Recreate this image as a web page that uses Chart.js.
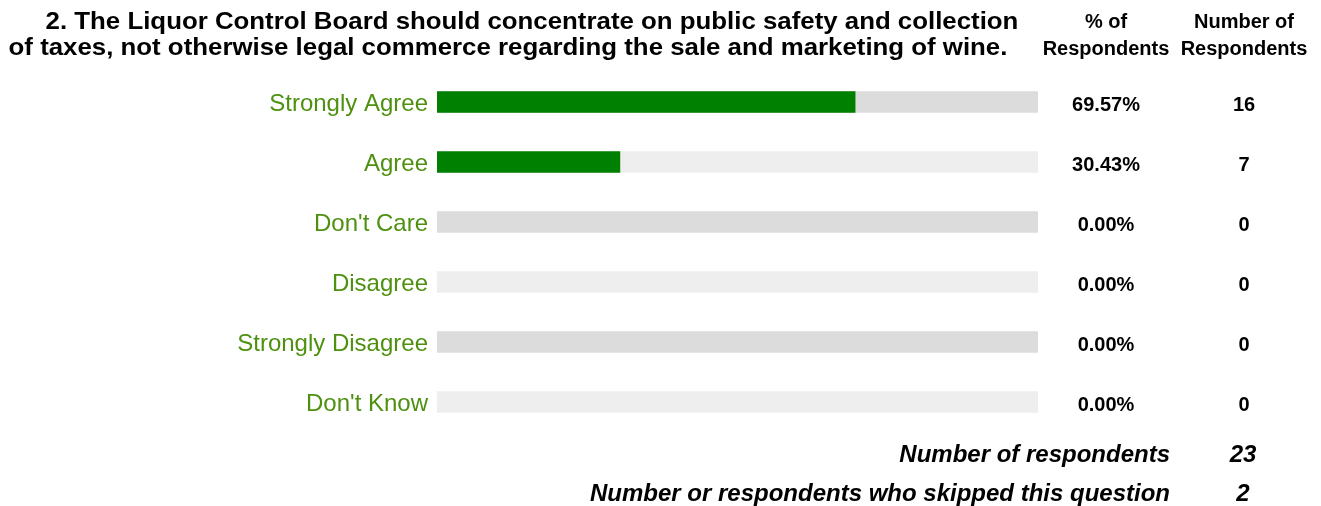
<!DOCTYPE html>
<html>
<head>
<meta charset="utf-8">
<script src="https://cdn.jsdelivr.net/npm/chart.js@4"></script>
<style>
  html, body { margin: 0; padding: 0; background: #fff; }
  #wrap { position: relative; width: 1321px; height: 506px; }
</style>
</head>
<body>
<div id="wrap"><canvas id="surveyChart"></canvas></div>
<script>
// ===== Data =====
const answers = ['Strongly Agree', 'Agree', "Don't Care", 'Disagree', 'Strongly Disagree', "Don't Know"];
const percents = [69.57, 30.43, 0, 0, 0, 0];
const counts = [16, 7, 0, 0, 0, 0];
const fullTrack = [100, 100, 100, 100, 100, 100];
const titleLines = [
  '2. The Liquor Control Board should concentrate on public safety and collection',
  'of taxes, not otherwise legal commerce regarding the sale and marketing of wine.'
];
const totalRespondents = 23;
const skipped = 2;

// ===== Colours =====
const barGreen = '#008000';
const labelGreen = '#4e9010';
const trackDark = '#dcdcdc';
const trackLight = '#eeeeee';

const FONT = 'Arial, "Liberation Sans", sans-serif';

// y is the baseline; sx stretches the text a little (title is wider in the original)
function txt(ctx, s, x, y, font, align, color, sx) {
  ctx.save();
  ctx.font = font;
  ctx.fillStyle = color || '#000';
  ctx.textAlign = align;
  ctx.textBaseline = 'alphabetic';
  ctx.translate(x, y);
  ctx.scale(sx || 1, 1);
  ctx.fillText(s, 0, 0);
  ctx.restore();
}

// ===== Text around the bars =====
const surveyText = {
  id: 'surveyText',
  afterDraw(chart) {
    const ctx = chart.ctx;
    const y = chart.scales.y;
    const left = chart.chartArea.left;

    // title
    txt(ctx, titleLines[0], 532, 29, 'bold 24px ' + FONT, 'center', '#000', 1.076);
    txt(ctx, titleLines[1], 508, 55, 'bold 24px ' + FONT, 'center', '#000', 1.076);

    // column headers
    txt(ctx, '% of', 1106, 28, 'bold 20px ' + FONT, 'center');
    txt(ctx, 'Respondents', 1106, 55, 'bold 20px ' + FONT, 'center');
    txt(ctx, 'Number of', 1244, 28, 'bold 20px ' + FONT, 'center');
    txt(ctx, 'Respondents', 1244, 55, 'bold 20px ' + FONT, 'center');

    answers.forEach((a, i) => {
      const py = y.getPixelForValue(i);
      txt(ctx, a, left - 9, py + 9, '24px ' + FONT, 'right', labelGreen);
      txt(ctx, percents[i].toFixed(2) + '%', 1106, py + 8.5, 'bold 20px ' + FONT, 'center');
      txt(ctx, String(counts[i]), 1244, py + 8.5, 'bold 20px ' + FONT, 'center');
    });

    // footer
    txt(ctx, 'Number of respondents', 1170, 462, 'italic bold 24px ' + FONT, 'right');
    txt(ctx, String(totalRespondents), 1243, 462, 'italic bold 24px ' + FONT, 'center');
    txt(ctx, 'Number or respondents who skipped this question', 1170, 501, 'italic bold 24px ' + FONT, 'right');
    txt(ctx, String(skipped), 1243, 501, 'italic bold 24px ' + FONT, 'center');
  }
};

new Chart(document.getElementById('surveyChart'), {
  type: 'bar',
  data: {
    labels: answers,
    datasets: [
      {
        label: '% of Respondents',
        data: percents.map(v => v > 0 ? v : null),
        backgroundColor: barGreen,
        barThickness: 21,
        grouped: false,
        order: 0
      },
      {
        label: 'track',
        data: fullTrack,
        backgroundColor: answers.map((_, i) => i % 2 === 0 ? trackDark : trackLight),
        barThickness: 21,
        grouped: false,
        order: 1
      }
    ]
  },
  options: {
    indexAxis: 'y',
    responsive: true,
    maintainAspectRatio: false,
    animation: false,
    layout: { padding: { left: 0, right: 283, top: 72, bottom: 74 } },
    plugins: {
      legend: { display: false },
      tooltip: { enabled: false }
    },
    scales: {
      x: { display: false, min: 0, max: 100 },
      y: {
        grid: { display: false },
        border: { display: false },
        ticks: { display: false },
        afterFit(scale) { scale.width = 437; }
      }
    }
  },
  plugins: [surveyText]
});
</script>
</body>
</html>
